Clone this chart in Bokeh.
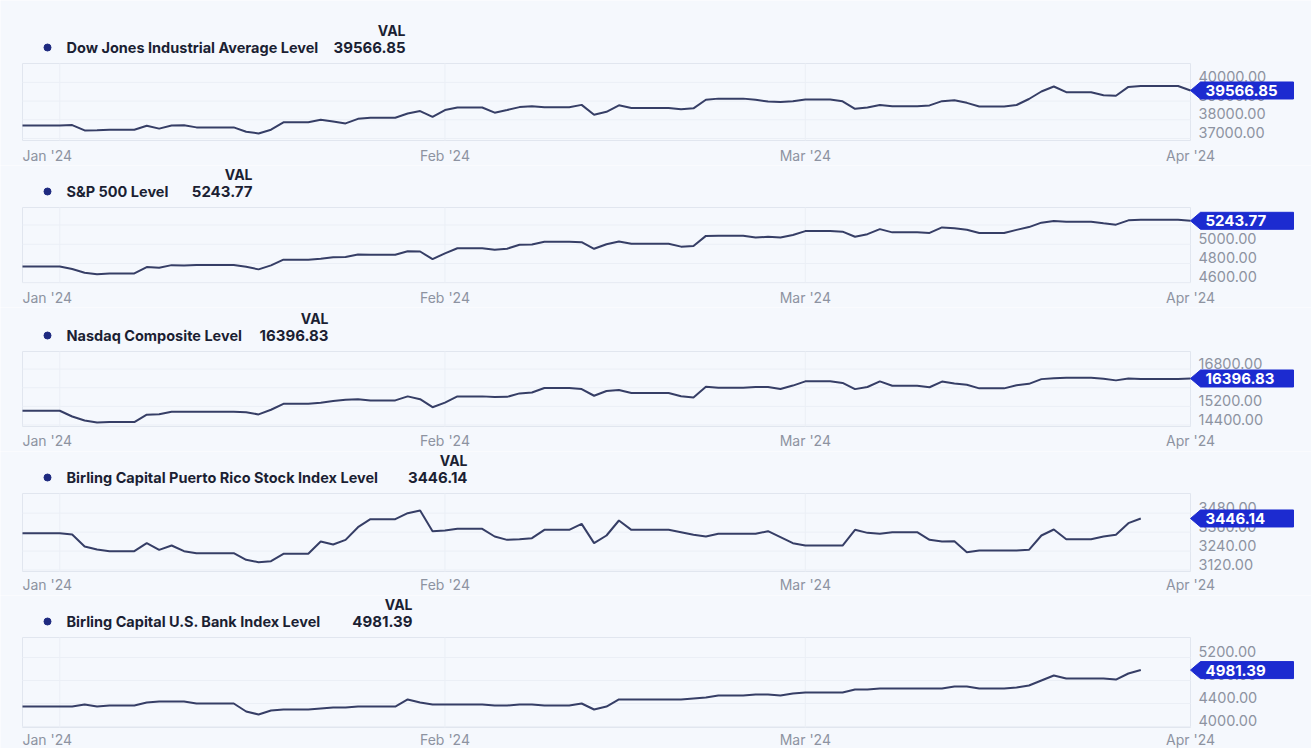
import pandas as pd
from bokeh.plotting import figure
from bokeh.layouts import column
from bokeh.models import Range1d, ColumnDataSource
from bokeh.core.properties import value
from bokeh.embed import file_html
from bokeh.resources import INLINE

# ---------------- data ----------------
HOLIDAYS = ["2024-01-01", "2024-01-15", "2024-02-19", "2024-03-29"]
START, END = "2023-12-29", "2024-04-01"
trade_days = [d for d in pd.bdate_range(START, END) if d.strftime("%Y-%m-%d") not in HOLIDAYS]

dji = [37689.54, 37715.04, 37430.19, 37440.34, 37466.11, 37683.01, 37525.16, 37695.73, 37711.02, 37592.98,
       37361.12, 37266.67, 37468.61, 37863.80, 38001.81, 37905.45, 37806.39, 38049.13, 38109.43, 38333.45,
       38467.31, 38150.30, 38519.84, 38654.42, 38380.12, 38521.36, 38677.36, 38726.33, 38671.69, 38797.38,
       38272.75, 38424.27, 38773.12, 38627.99, 38563.80, 38612.24, 39069.11, 39131.53, 39069.23, 38972.41,
       38949.02, 38996.39, 39087.38, 38989.83, 38585.19, 38661.05, 38791.35, 38722.69, 38769.66, 38997.66,
       39043.32, 38905.66, 38714.77, 38790.43, 39110.76, 39512.13, 39781.37, 39475.90, 39313.64, 39282.33,
       39760.08, 39807.37, 39566.85]
spx = [4769.83, 4742.83, 4704.81, 4688.68, 4697.24, 4763.54, 4756.50, 4783.45, 4780.24, 4783.83,
       4765.98, 4739.21, 4780.94, 4839.81, 4850.43, 4864.60, 4868.55, 4894.16, 4890.97, 4927.93,
       4924.97, 4845.65, 4906.19, 4958.61, 4942.81, 4954.23, 4995.06, 4997.91, 5026.61, 5021.84,
       4953.17, 5000.62, 5029.73, 5005.57, 4975.51, 4981.80, 5087.03, 5088.80, 5069.53, 5078.18,
       5069.76, 5096.27, 5137.08, 5130.95, 5078.65, 5104.76, 5157.36, 5123.69, 5117.94, 5175.27,
       5165.31, 5150.48, 5117.09, 5149.42, 5178.51, 5224.62, 5241.53, 5234.18, 5218.19, 5203.58,
       5248.49, 5254.35, 5243.77]
ixic = [15011.35, 14765.94, 14592.21, 14510.30, 14524.07, 14843.77, 14857.71, 14969.65, 14970.19, 14972.76,
        14944.35, 14855.62, 15055.65, 15310.97, 15360.29, 15425.94, 15481.92, 15510.50, 15455.36, 15628.04,
        15509.90, 15164.01, 15361.64, 15628.95, 15597.68, 15609.00, 15756.64, 15793.72, 15990.66, 15942.55,
        15655.60, 15859.15, 15906.17, 15775.65, 15630.78, 15580.87, 16041.62, 15996.82, 16027.33, 16035.30,
        15947.74, 16091.92, 16274.94, 16207.51, 15939.59, 16031.54, 16273.38, 16085.11, 16019.27, 16265.64,
        16177.77, 16128.53, 15973.17, 16103.45, 16166.79, 16369.41, 16401.84, 16428.82, 16384.47, 16315.70,
        16399.52, 16379.46, 16396.83]
prx = [3353.2, 3344.8, 3269.0, 3250.0, 3239.5, 3290.1, 3247.9, 3275.3, 3239.5, 3226.9,
       3184.8, 3170.0, 3176.3, 3222.7, 3300.6, 3281.6, 3311.1, 3391.1, 3441.7, 3479.6,
       3496.4, 3365.9, 3370.1, 3380.6, 3332.2, 3311.1, 3315.3, 3321.6, 3374.3, 3412.2,
       3290.1, 3338.5, 3433.3, 3374.3, 3359.6, 3342.7, 3332.2, 3349.0, 3349.0, 3365.9,
       3328.0, 3290.1, 3275.3, 3275.3, 3374.3, 3355.3, 3349.0, 3359.6, 3311.1, 3300.6,
       3302.7, 3233.2, 3243.7, 3243.7, 3247.9, 3338.5, 3376.4, 3315.3, 3332.2, 3342.7,
       3416.4, 3446.14]
bank = [4348, 4348, 4383, 4348, 4365, 4417, 4435, 4435, 4435, 4400,
        4261, 4209, 4278, 4296, 4313, 4330, 4330, 4348, 4348, 4470,
        4417, 4383, 4383, 4383, 4365, 4365, 4383, 4383, 4365, 4400,
        4296, 4348, 4470, 4470, 4470, 4487, 4504, 4539, 4557, 4557,
        4539, 4574, 4591, 4591, 4643, 4643, 4661, 4661, 4661, 4661,
        4696, 4696, 4661, 4678, 4713, 4800, 4887, 4835, 4835, 4817,
        4922, 4981.39]

series_names = ["Dow Jones Industrial Average Level", "S&P 500 Level", "Nasdaq Composite Level",
                "Birling Capital Puerto Rico Stock Index Level", "Birling Capital U.S. Bank Index Level"]
series_values = [dji, spx, ixic, prx, bank]
y_ranges = [(36891, 41011), (4603, 5382), (14336, 17555), (3111, 3604), (3983, 5548)]
y_ticks = [[37000, 38000, 39000, 40000], [4600, 4800, 5000, 5200], [14400, 15200, 16000, 16800],
           [3120, 3240, 3360, 3480], [4000, 4400, 4800, 5200]]
month_ticks = ["2024-01-01", "2024-02-01", "2024-03-01", "2024-04-01"]
month_labels = ["Jan '24", "Feb '24", "Mar '24", "Apr '24"]
header = "VAL"

# ---------------- layout (page pixels) / style ----------------
PAGE_W = 1311
PLOT_L, PLOT_R = 22, 1190
fig_bounds = [0, 165, 307, 451, 595, 748]
plot_tops = [63, 207, 351, 493, 637]
plot_bots = [140, 282, 426, 571, 727]
xlabel_y = [155, 297, 440, 584, 739]
value_right = [405, 252, 328, 467, 412]

BG = "#f5f8fd"
LINE = "#363e66"
BADGE = "#1c2bd0"
TXT = "#1b1f33"
AXT = "#8d93a1"
GRID = "#ebeff6"
BOX = "#e1e6ef"
DOT = "#1e2a80"
FONT = value("Inter")


def ms(t):
    return pd.Timestamp(t).value / 1e6


x0, x1 = ms(START), ms(END)
mspp = (x1 - x0) / (PLOT_R - PLOT_L)
months = [ms(m) for m in month_ticks]

figs = []
for i in range(5):
    lo, hi = y_ranges[i]
    pt, pb = plot_tops[i], plot_bots[i]
    T, B = fig_bounds[i], fig_bounds[i + 1]
    upp = (hi - lo) / (pb - pt)

    def X(px):
        return x0 + (px - PLOT_L) * mspp

    def Y(py):
        return lo + (pb - py) * upp

    p = figure(width=PAGE_W, height=B - T, x_axis_type=None, y_axis_type=None,
               x_range=Range1d(X(0), X(PAGE_W)), y_range=Range1d(Y(B), Y(T)),
               toolbar_location=None, output_backend="svg", min_border=0,
               background_fill_color=BG, border_fill_color=BG, outline_line_color=None)

    ticks = y_ticks[i]
    # plot box and grid
    p.quad(left=[x0], right=[x1], bottom=[lo], top=[hi], fill_alpha=0, line_color=BOX, line_width=1)
    p.segment(x0=months[:-1], y0=[lo] * 3, x1=months[:-1], y1=[hi] * 3, line_color=GRID, line_width=1)
    p.segment(x0=[x0] * len(ticks), y0=ticks, x1=[x1] * len(ticks), y1=ticks,
              line_color=GRID, line_width=1)

    # series line (weekends carry the previous close)
    vals = series_values[i]
    s = pd.Series(vals, index=trade_days[:len(vals)])
    daily = s.reindex(pd.date_range(s.index[0], s.index[-1], freq="D")).ffill()
    src = ColumnDataSource(dict(x=[ms(d) for d in daily.index], v=daily.values))
    p.line("x", "v", source=src, line_color=LINE, line_width=2)

    # value-axis labels (sit slightly above their grid lines)
    p.text(x=[X(1198)] * len(ticks), y=[t + 6 * upp for t in ticks],
           text=[f"{t:.2f}" for t in ticks], text_align="left", text_baseline="middle",
           text_color=AXT, text_font=FONT, text_font_size="14.5px")

    # time-axis labels (first one is kept inside the plot's left edge)
    ly = Y(xlabel_y[i])
    p.text(x=[x0], y=[ly], text=month_labels[:1], text_align="left", text_baseline="middle",
           text_color=AXT, text_font=FONT, text_font_size="14px")
    p.text(x=months[1:], y=[ly] * 3, text=month_labels[1:], text_align="center",
           text_baseline="middle", text_color=AXT, text_font=FONT, text_font_size="14px")

    # badge with the latest value
    v = vals[-1]
    hh = 8.5 * upp
    p.patch(x=[x1, X(1200), X(1293), X(1293), X(1200)], y=[v, v + hh, v + hh, v - hh, v - hh],
            fill_color=BADGE, line_color=BADGE)
    p.text(x=[X(1205)], y=[v], text=[f"{v:.2f}"], text_align="left", text_baseline="middle",
           text_color="white", text_font=FONT, text_font_style="bold", text_font_size="15px")

    # legend block
    ry, hy = Y(pt - 16), Y(pt - 33)
    p.scatter(x=[X(47)], y=[ry], size=7, marker="circle", fill_color=DOT, line_color=DOT)
    p.text(x=[X(66)], y=[ry], text=[series_names[i]], text_align="left", text_baseline="middle",
           text_color=TXT, text_font=FONT, text_font_style="bold", text_font_size="14.5px")
    p.text(x=[X(value_right[i])], y=[ry], text=[f"{v:.2f}"], text_align="right",
           text_baseline="middle", text_color=TXT, text_font=FONT, text_font_style="bold",
           text_font_size="15px")
    p.text(x=[X(value_right[i])], y=[hy], text=[header], text_align="right",
           text_baseline="middle", text_color=TXT, text_font=FONT, text_font_style="bold",
           text_font_size="14px")
    figs.append(p)

layout = column(*figs, spacing=0)
open("out.html", "w").write(file_html(layout, INLINE))
